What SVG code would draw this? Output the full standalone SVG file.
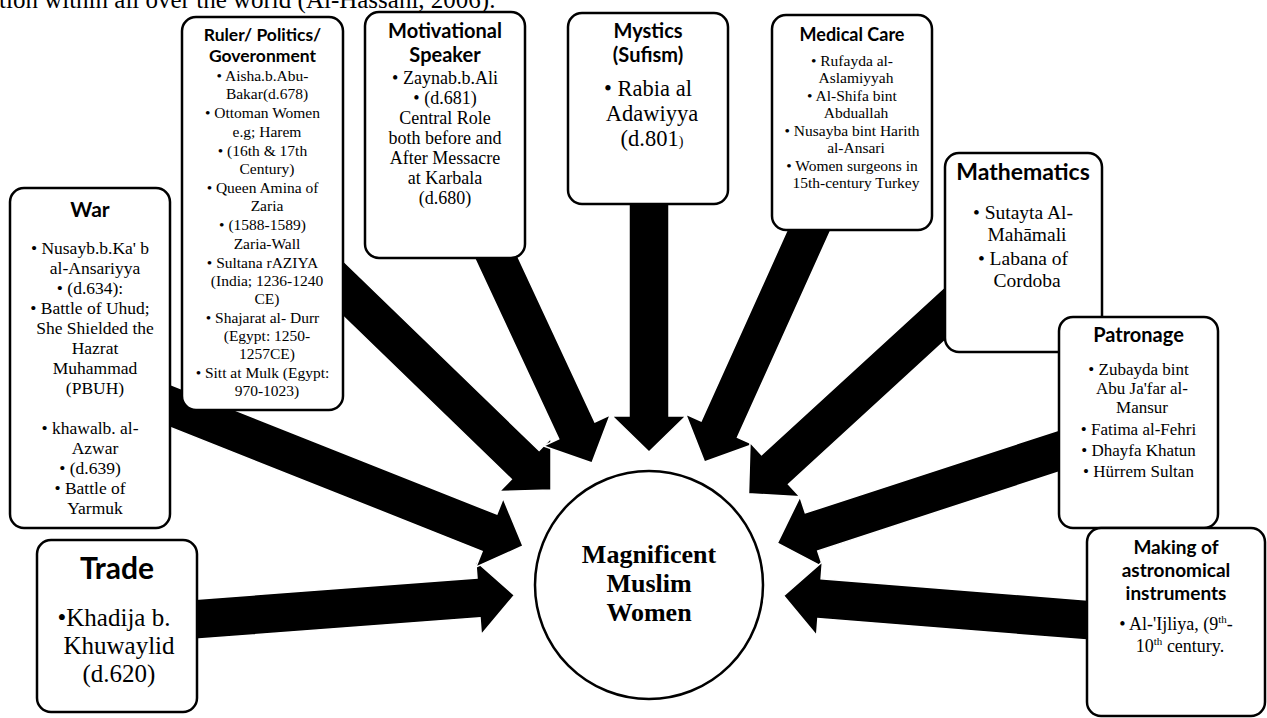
<svg xmlns="http://www.w3.org/2000/svg" width="1267" height="718" viewBox="0 0 1267 718">
<style>
.box{fill:#fff;stroke:#000;stroke-width:2.5}
.arr{fill:#000;stroke:#fff;stroke-width:1.5;stroke-linejoin:miter}
.ttl{font-family:Lato,"Liberation Sans",sans-serif;font-weight:bold;text-anchor:middle;fill:#000}
.bd{font-family:"Liberation Serif","Times New Roman",serif;text-anchor:middle;fill:#000}
</style>
<rect width="1267" height="718" fill="#fff"/>
<text x="-1" y="8" font-family="Liberation Serif, serif" font-size="25">tion within all over the world (Al-Hassani, 2006).</text>

<g id="connectors">
<polygon class="arr" points="178.9,600.5 477.0,578.0 475.7,561.0 514.4,595.2 481.3,634.8 480.0,617.8 181.9,640.3"/>
<polygon class="arr" points="167.4,383.2 496.9,514.1 503.2,498.3 523,546 475.8,567.1 482.1,551.3 152.6,420.4"/>
<polygon class="arr" points="327.9,245.9 539.1,450.5 551.0,438.3 551,490 499.4,491.5 511.3,479.3 300.1,274.7"/>
<polygon class="arr" points="507.8,234.9 594.9,421.9 610.3,414.8 592,463 543.3,446.0 558.7,438.9 471.6,251.9"/>
<polygon class="arr" points="669,190 669,416 686,416 649,452 612,416 629,416 629,190"/>
<polygon class="arr" points="797.6,206.8 701.1,421.0 685.6,414.0 704.5,462 753.0,444.4 737.5,437.4 834.0,223.2"/>
<polygon class="arr" points="959.9,272.9 761.5,454.8 750.0,442.2 748.5,493.8 800.0,496.8 788.5,484.2 986.9,302.4"/>
<polygon class="arr" points="1070.6,426.2 805.3,512.9 800.0,496.7 777.3,543.1 823.0,567.1 817.7,550.9 1083.0,464.2"/>
<polygon class="arr" points="1109.1,601.8 821.1,578.8 822.4,561.8 783.6,595.8 816.6,635.6 817.9,618.6 1105.9,641.6"/>
</g>

<g id="war">
<rect class="box" x="10" y="188" width="160" height="340" rx="14"/>
<text class="ttl" x="90" y="217" font-size="21">War</text>
<g class="bd" font-size="17.5">
<text x="90" y="254">• Nusayb.b.Ka' b</text>
<text x="95" y="274">al-Ansariyya</text>
<text x="90" y="294">• (d.634):</text>
<text x="90" y="314">• Battle of Uhud;</text>
<text x="95" y="334">She Shielded the</text>
<text x="95" y="354">Hazrat</text>
<text x="95" y="374">Muhammad</text>
<text x="95" y="394">(PBUH)</text>
<text x="90" y="434">• khawalb. al-</text>
<text x="95" y="454">Azwar</text>
<text x="90" y="474">• (d.639)</text>
<text x="90" y="494">• Battle of</text>
<text x="95" y="514">Yarmuk</text>
</g>
</g>

<g id="ruler">
<rect class="box" x="182" y="17" width="161" height="393" rx="14"/>
<text class="ttl" x="262.5" y="41" font-size="17.5">Ruler/ Politics/</text>
<text class="ttl" x="262.5" y="62" font-size="17.5">Goveronment</text>
<g class="bd" font-size="15.5">
<text x="262.5" y="81">• Aisha.b.Abu-</text>
<text x="267" y="99">Bakar(d.678)</text>
<text x="262.5" y="118">• Ottoman Women</text>
<text x="267" y="137">e.g; Harem</text>
<text x="262.5" y="156">• (16th &amp; 17th</text>
<text x="267" y="174">Century)</text>
<text x="262.5" y="193">• Queen Amina of</text>
<text x="267" y="211">Zaria</text>
<text x="262.5" y="230">• (1588-1589)</text>
<text x="267" y="249">Zaria-Wall</text>
<text x="262.5" y="268">• Sultana  rAZIYA</text>
<text x="267" y="286">(India; 1236-1240</text>
<text x="267" y="304">CE)</text>
<text x="262.5" y="323">• Shajarat al- Durr</text>
<text x="267" y="341">(Egypt: 1250-</text>
<text x="267" y="359">1257CE)</text>
<text x="262.5" y="378">• Sitt at Mulk (Egypt:</text>
<text x="267" y="396">970-1023)</text>
</g>
</g>

<g id="motivational">
<rect class="box" x="365" y="12" width="160" height="246" rx="14"/>
<text class="ttl" x="445" y="38" font-size="20">Motivational</text>
<text class="ttl" x="445" y="62" font-size="20">Speaker</text>
<g class="bd" font-size="18">
<text x="445" y="84">• Zaynab.b.Ali</text>
<text x="445" y="104">• (d.681)</text>
<text x="445" y="124">Central Role</text>
<text x="445" y="144">both before and</text>
<text x="445" y="164">After Messacre</text>
<text x="445" y="184">at Karbala</text>
<text x="445" y="204">(d.680)</text>
</g>
</g>

<g id="mystics">
<rect class="box" x="568" y="13" width="160" height="191" rx="14"/>
<text class="ttl" x="648" y="38" font-size="20">Mystics</text>
<text class="ttl" x="648" y="62" font-size="20">(Sufism)</text>
<g class="bd" font-size="22.5">
<text x="648" y="96">• Rabia al</text>
<text x="652" y="121">Adawiyya</text>
<text x="652" y="146">(d.801<tspan font-size="14">)</tspan></text>
</g>
</g>

<g id="medical">
<rect class="box" x="772" y="15" width="160" height="215" rx="14"/>
<text class="ttl" x="852" y="41" font-size="18">Medical Care</text>
<g class="bd" font-size="15.5">
<text x="852" y="66">• Rufayda al-</text>
<text x="856" y="83">Aslamiyyah</text>
<text x="852" y="101">• Al-Shifa bint</text>
<text x="856" y="118">Abduallah</text>
<text x="852" y="136">• Nusayba bint Harith</text>
<text x="856" y="153">al-Ansari</text>
<text x="852" y="171">• Women surgeons in</text>
<text x="856" y="188">15th-century Turkey</text>
</g>
</g>

<g id="mathematics">
<rect class="box" x="945" y="153" width="157" height="199" rx="14"/>
<text class="ttl" x="1023" y="180" font-size="23">Mathematics</text>
<g class="bd" font-size="19.5">
<text x="1023" y="219">• Sutayta Al-</text>
<text x="1027" y="241">Mahāmali</text>
<text x="1023" y="265">• Labana of</text>
<text x="1027" y="287">Cordoba</text>
</g>
</g>

<g id="patronage">
<rect class="box" x="1059" y="317" width="159" height="211" rx="14"/>
<text class="ttl" x="1138.5" y="342" font-size="20">Patronage</text>
<g class="bd" font-size="17">
<text x="1138.5" y="375">• Zubayda bint</text>
<text x="1142" y="394">Abu Ja'far al-</text>
<text x="1142" y="413">Mansur</text>
<text x="1138.5" y="435">• Fatima al-Fehri</text>
<text x="1138.5" y="456">• Dhayfa Khatun</text>
<text x="1138.5" y="477">• Hürrem Sultan</text>
</g>
</g>

<g id="making">
<rect class="box" x="1087" y="528" width="178" height="188" rx="14"/>
<text class="ttl" x="1176" y="554" font-size="19">Making of</text>
<text class="ttl" x="1176" y="577" font-size="19">astronomical</text>
<text class="ttl" x="1176" y="600" font-size="19">instruments</text>
<g class="bd" font-size="18">
<text x="1176" y="630">• Al-'Ijliya, (9<tspan font-size="11" dy="-7">th</tspan><tspan dy="7">-</tspan></text>
<text x="1180" y="652">10<tspan font-size="11" dy="-7">th</tspan><tspan dy="7"> century.</tspan></text>
</g>
</g>

<g id="trade">
<rect class="box" x="37" y="540" width="160" height="172" rx="14"/>
<text class="ttl" x="117" y="579" font-size="30">Trade</text>
<g class="bd" font-size="25">
<text x="114" y="626">•Khadija b.</text>
<text x="119" y="654">Khuwaylid</text>
<text x="119" y="682">(d.620)</text>
</g>
</g>

<g id="center">
<circle cx="649" cy="585" r="114" fill="#fff" stroke="#000" stroke-width="2.5"/>
<g class="bd" font-size="26" font-weight="bold">
<text x="649" y="563">Magnificent</text>
<text x="649" y="592">Muslim</text>
<text x="649" y="621">Women</text>
</g>
</g>
</svg>
